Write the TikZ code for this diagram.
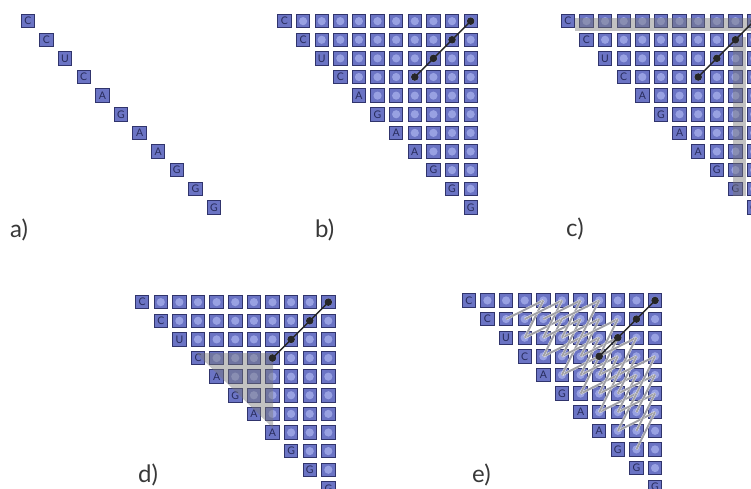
\documentclass[tikz,border=0pt]{standalone}
\usepackage{fontspec}
\setmainfont{Lato}
\definecolor{cellfill}{RGB}{107,116,196}
\definecolor{cellborder}{RGB}{48,52,108}
\definecolor{innerc}{RGB}{152,161,226}
\definecolor{lettc}{RGB}{40,44,92}
\definecolor{bandc}{RGB}{120,120,120}
\definecolor{meshc}{RGB}{160,160,166}
\tikzset{
  cell/.style={draw=cellborder, fill=cellfill, line width=0.9pt, minimum size=13.4pt,
    inner sep=0pt, text=lettc, font=\fontsize{10.5}{10.5}\selectfont},
  idot/.style={circle, fill=innerc, minimum size=8.2pt, inner sep=0pt},
  hdot/.style={circle, fill=black!85, minimum size=7.6pt, inner sep=0pt},
  hline/.style={draw=black!85, line width=1.4pt},
  band/.style={fill=bandc, fill opacity=0.45},
  meshcase/.style={draw=white, line width=2.6pt, draw opacity=0.85},
  meshcore/.style={draw=meshc, line width=1.9pt},
  plabel/.style={anchor=base west, inner sep=0pt, font=\fontsize{24}{24}\selectfont, text=black!78}
}
\newcommand\dpmatrix[4]{%
  \foreach \r/\l in {0/C,1/C,2/U,3/C,4/A,5/G,6/A,7/A,8/G,9/G,10/G}{%
    \node[cell] (#1-\r-\r) at ({#2+7.15+18.62*\r},{#3+7.15+18.62*\r}) {\l};
    \ifnum#4=1
      \ifnum\r<10
        \pgfmathtruncatemacro\cs{\r+1}
        \foreach \c in {\cs,...,10}{%
          \node[cell] (#1-\r-\c) at ({#2+7.15+18.62*\c},{#3+7.15+18.62*\r}) {};
          \node[idot] at (#1-\r-\c.center) {};
        }
      \fi
    \fi
  }}
\newcommand\helixpath[1]{%
  \draw[hline] (#1-0-10.center) -- (#1-3-7.center);
  \foreach \k in {0,1,2,3}{%
    \pgfmathtruncatemacro\cc{10-\k}
    \node[hdot] at (#1-\k-\cc.center) {};
  }}
\begin{document}
\begin{tikzpicture}[x=1pt,y=-1pt]
\useasboundingbox (0,0) rectangle (751,488);
\clip (0,0) rectangle (751,488);
% a)
\dpmatrix{a}{20.7}{14}{0}
\node[plabel] (la) at (10,237) {a)};
% b)
\dpmatrix{b}{277.3}{14}{1}
\helixpath{b}
\node[plabel] (lb) at (315,237) {b)};
% c)
\dpmatrix{c}{560.7}{14}{1}
\fill[band] (575,18) rectangle (751,31);
\fill[band] (733,37) rectangle (746,196);
\helixpath{c}
\node[plabel] (lc) at (566,236) {c)};
% d)
\dpmatrix{d}{135}{295}{1}
\fill[band] (196,353) -- (273,353) -- (273,428) -- cycle;
\helixpath{d}
\node[plabel] (ld) at (138,482) {d)};
% e)
\dpmatrix{e}{461.7}{293.3}{1}
\foreach \d in {1,...,4}{%
  \pgfmathtruncatemacro\imax{10-\d}
  \foreach \i in {0,...,\imax}{%
    \pgfmathtruncatemacro\j{\i+\d}
    \pgfmathtruncatemacro\ia{\i-1}
    \pgfmathtruncatemacro\ja{\j+2}
    \pgfmathtruncatemacro\ib{\i-2}
    \pgfmathtruncatemacro\jb{\j+1}
    \ifnum\ia>-1 \ifnum\ja<11
      \draw[meshcase] (e-\i-\j.center) -- (e-\ia-\ja.center);
      \draw[meshcore] (e-\i-\j.center) -- (e-\ia-\ja.center);
    \fi\fi
    \ifnum\ib>-1 \ifnum\jb<11
      \draw[meshcase] (e-\i-\j.center) -- (e-\ib-\jb.center);
      \draw[meshcore] (e-\i-\j.center) -- (e-\ib-\jb.center);
    \fi\fi
  }}
\helixpath{e}
\node[plabel] (le) at (472,482) {e)};
\end{tikzpicture}
\end{document}
